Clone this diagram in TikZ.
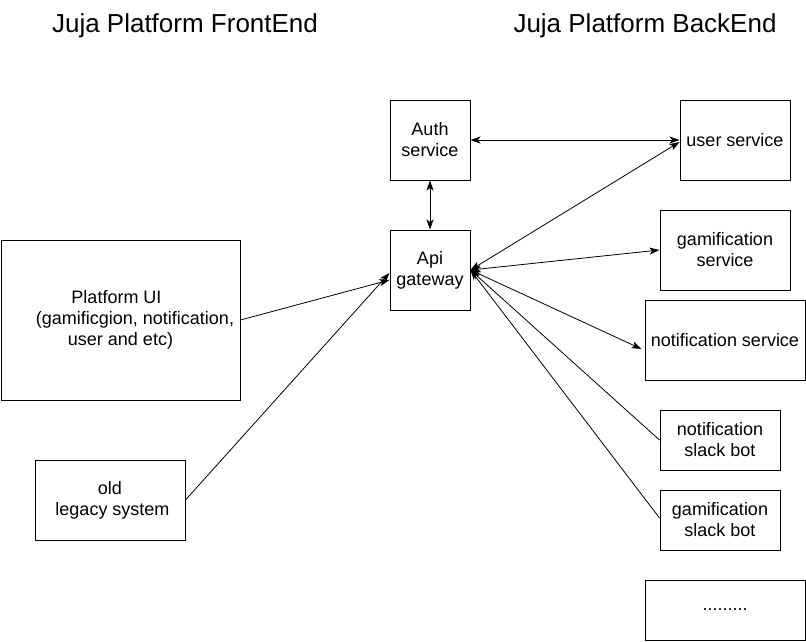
\documentclass[tikz,border=0pt]{standalone}
\usepackage{fontspec}
\setmainfont{Liberation Sans}
\usetikzlibrary{arrows.meta}
\begin{document}
\begin{tikzpicture}[x=1pt,y=-1pt,
  box/.style={draw,line width=1pt,rectangle,inner sep=0pt,align=center,
    font=\fontsize{18}{21}\selectfont},
  title/.style={font=\fontsize{26}{30}\selectfont,inner sep=0pt},
  conn/.style={line width=0.8pt,arrows={-Stealth[length=10pt,width=7pt,inset=2.5pt]}},
  conn2/.style={line width=0.8pt,arrows={Stealth[length=10pt,width=7pt,inset=2.5pt]-Stealth[length=10pt,width=7pt,inset=2.5pt]}},
  connb/.style={line width=0.8pt,arrows={Stealth[length=10pt,width=7pt,inset=2.5pt]-}}]
\useasboundingbox (0,0) rectangle (806,641);
\node[title] (tf) at (185,26) {Juja Platform FrontEnd};
\node[title] (tb) at (645,26) {Juja Platform BackEnd};

\node[box,minimum width=80pt,minimum height=80pt] (auth) at (430,140) {Auth\\service};
\node[box,minimum width=80pt,minimum height=80pt] (api) at (430,270) {\raisebox{-3pt}{Api}\\\raisebox{-3pt}{gateway}};
\node[box,minimum width=110pt,minimum height=80pt] (user) at (735,140) {user service};
\node[box,minimum width=130pt,minimum height=80pt] (gserv) at (725,250) {gamification\\service};
\node[box,minimum width=160pt,minimum height=80pt] (nserv) at (725,340) {notification service};
\node[box,minimum width=120pt,minimum height=60pt] (nbot) at (720,440) {notification\\slack bot};
\node[box,minimum width=120pt,minimum height=60pt] (gbot) at (720,520) {gamification\\slack bot};
\node[box,minimum width=160pt,minimum height=60pt] (dots) at (725,610) {.........};
\node[box,minimum width=239pt,minimum height=160pt] (ui) at (120.5,320) {Platform UI\hspace*{8pt}\\\hspace*{29pt}(gamificgion, notification,\\user and etc)};
\node[box,minimum width=150pt,minimum height=80pt] (legacy) at (110,500) {old\\\hspace*{5pt}legacy system};

\draw[conn2] (auth.south) -- (api.north);
\draw[conn2] (auth.east) -- (user.west);
\draw[conn2] (api.east) -- ([yshift=-2pt]user.west);
\draw[conn2] (api.east) -- (gserv.west);
\draw[conn2] (api.east) -- ([xshift=-3pt,yshift=-9pt]nserv.west);
\draw[connb] (api.east) -- (nbot.west);
\draw[connb] (api.east) -- ([yshift=2pt]gbot.west);
\draw[conn] (ui.east) -- ([yshift=-10pt]api.west);
\draw[conn] (legacy.east) -- ([yshift=-3pt]api.west);
\end{tikzpicture}
\end{document}
